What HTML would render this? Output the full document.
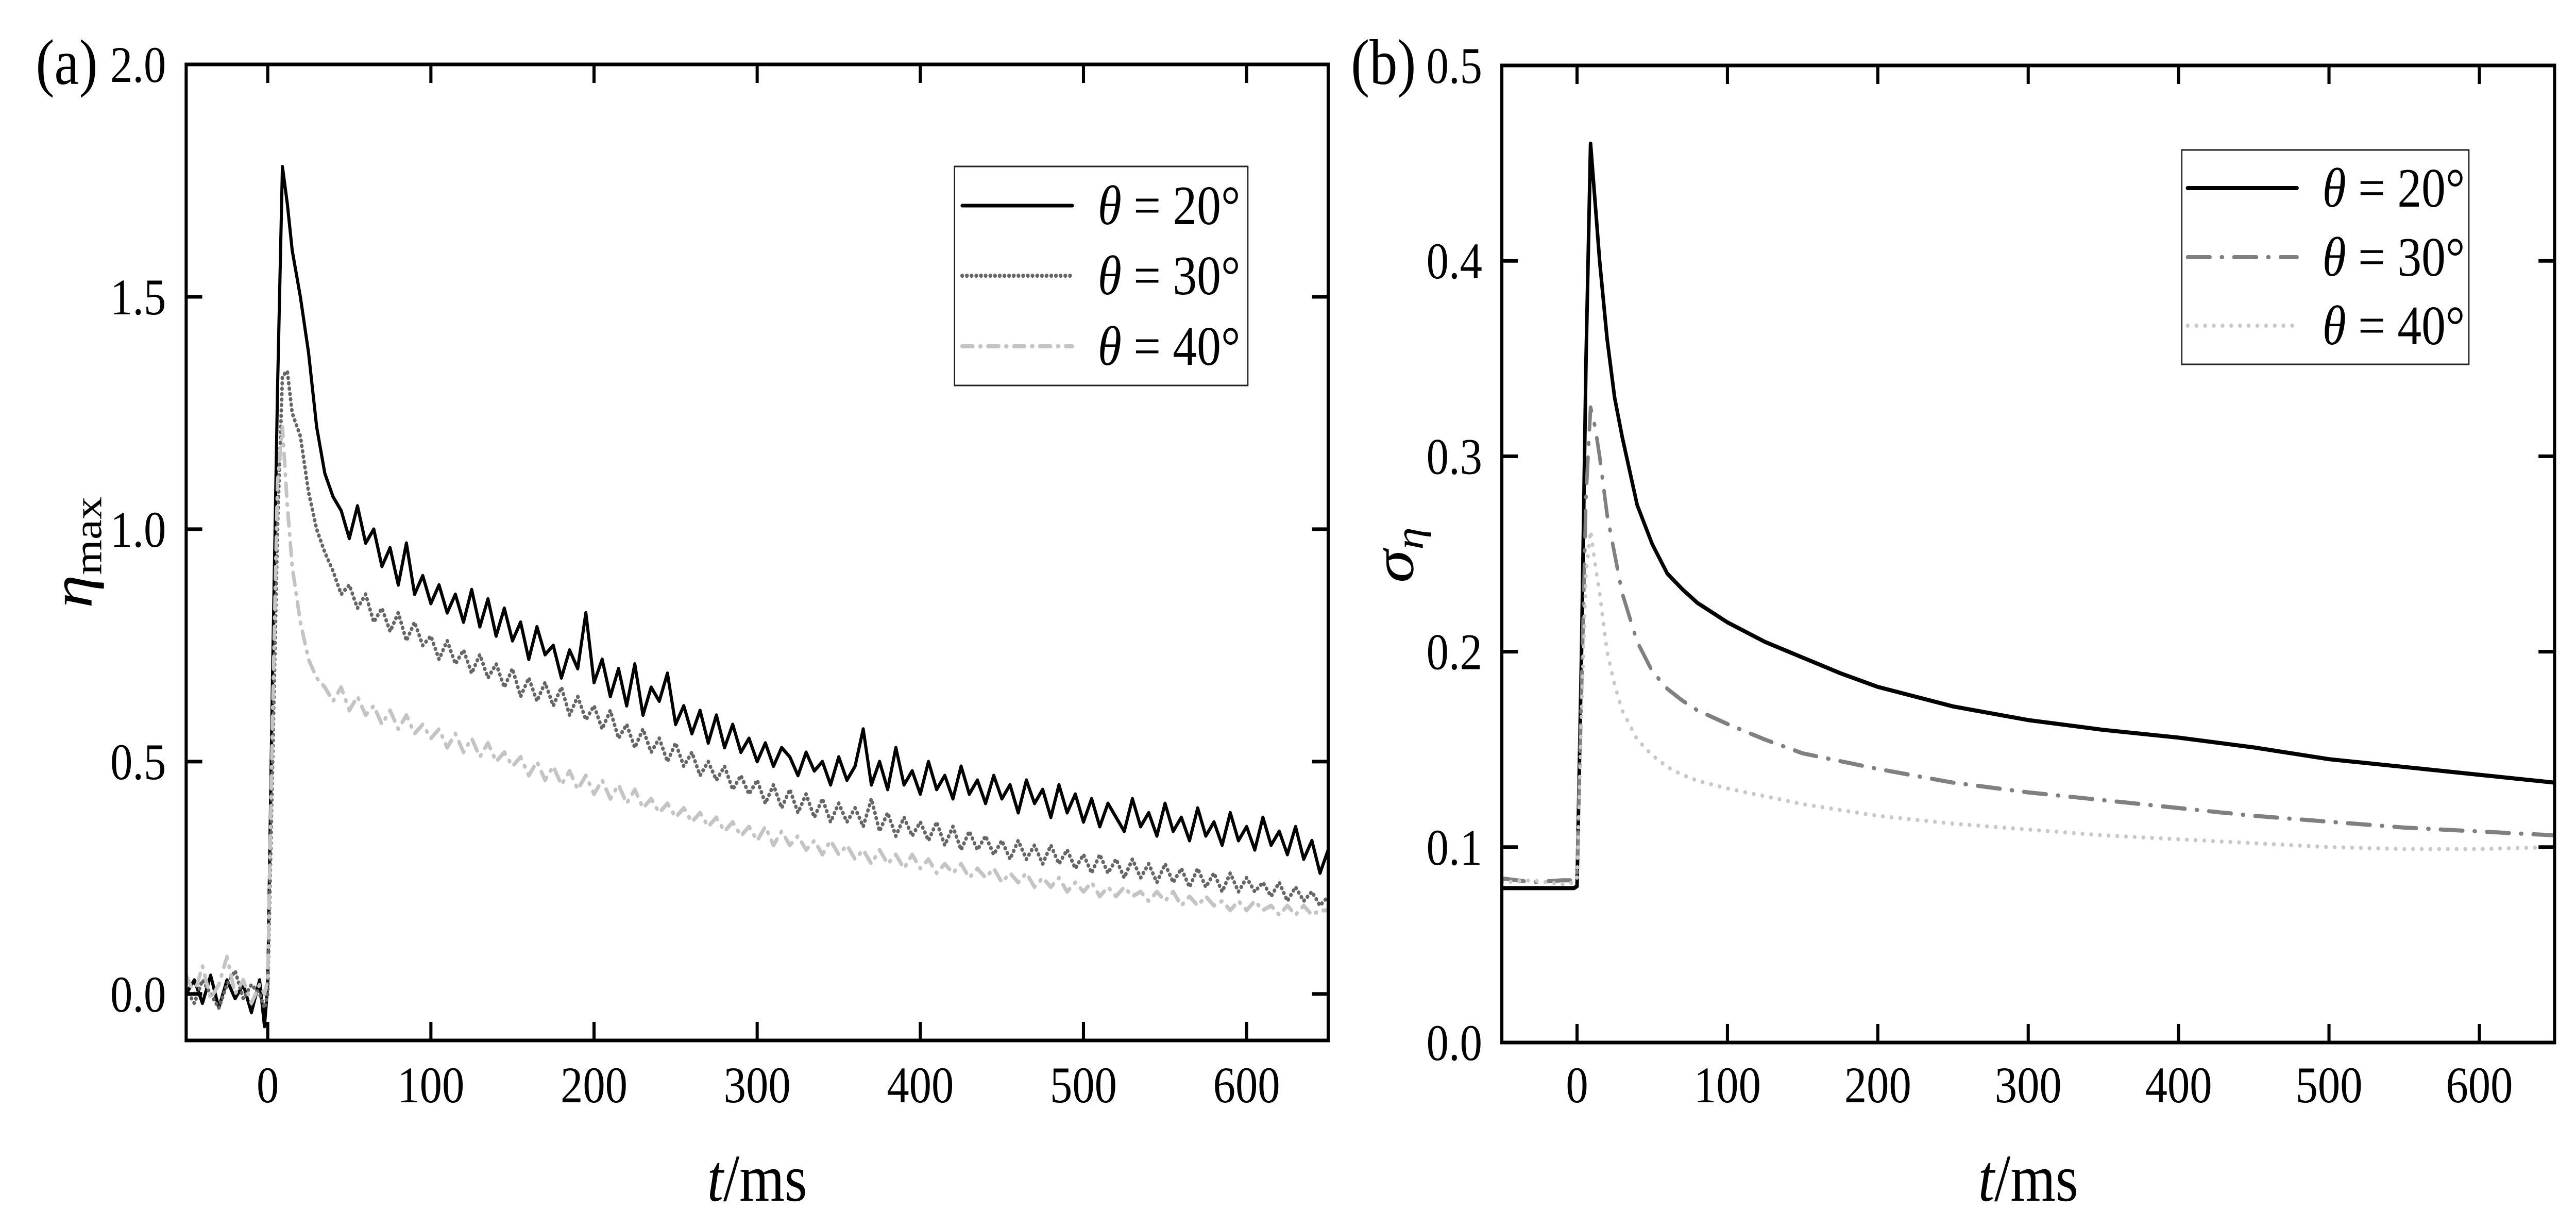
<!DOCTYPE html>
<html><head><meta charset="utf-8"><style>
html,body{margin:0;padding:0;background:#fff;width:100%;height:100%;overflow:hidden;}
svg{display:block;font-family:"Liberation Serif",serif;width:100vw;height:100vh;}
</style></head><body>
<svg id="fig" viewBox="0 0 5770 2381" preserveAspectRatio="none" xmlns="http://www.w3.org/2000/svg">
<rect x="0" y="0" width="5770" height="2381" fill="#fff"/>
<g id="pa"></g>
<g id="pb"></g>
</svg>
<script>
// ---- Panel (a) data ----
const tA = [-50,-45,-40,-35,-30,-25,-20,-15,-10,-5,-2,0,3,6,9,12,15,
20,25,30,35,40,45,50,55,60,65,70,75,80,85,90,95,100,105,110,115,120,125,130,135,140,145,150,155,160,165,170,175,180,185,190,195,200,205,210,215,220,225,230,235,240,245,250,255,260,265,270,275,280,285,290,295,300,305,310,315,320,325,330,335,340,345,350,355,360,365,370,375,380,385,390,395,400,405,410,415,420,425,430,435,440,445,450,455,460,465,470,475,480,485,490,495,500,505,510,515,520,525,530,535,540,545,550,555,560,565,570,575,580,585,590,595,600,605,610,615,620,625,630,635,640,645,650];
const a20 = [0.0,0.03,-0.02,0.04,-0.03,0.03,-0.01,0.02,-0.04,0.03,-0.07,0.02,0.7,1.3,1.78,1.7,1.6,
1.5,1.38,1.22,1.12,1.07,1.04,0.98,1.05,0.97,1.0,0.92,0.96,0.88,0.97,0.86,0.9,0.84,0.88,0.82,0.86,0.8,0.87,0.79,0.85,0.77,0.83,0.76,0.8,0.72,0.79,0.73,0.75,0.68,0.74,0.7,0.82,0.67,0.72,0.64,0.7,0.62,0.71,0.6,0.66,0.63,0.69,0.58,0.62,0.56,0.61,0.54,0.6,0.53,0.58,0.52,0.55,0.5,0.54,0.49,0.53,0.51,0.47,0.52,0.48,0.5,0.45,0.51,0.46,0.49,0.57,0.45,0.5,0.44,0.53,0.45,0.48,0.43,0.5,0.44,0.47,0.42,0.49,0.43,0.46,0.41,0.47,0.42,0.45,0.39,0.46,0.41,0.44,0.38,0.45,0.39,0.43,0.37,0.42,0.36,0.41,0.38,0.35,0.42,0.36,0.39,0.34,0.41,0.35,0.38,0.33,0.4,0.34,0.37,0.32,0.39,0.33,0.36,0.31,0.38,0.32,0.35,0.3,0.36,0.29,0.33,0.26,0.31];
const a30 = [0.01,-0.02,0.03,0.0,-0.03,0.02,0.05,-0.01,0.02,0.0,-0.03,0.0,0.5,1.0,1.33,1.34,1.25,
1.2,1.08,1.0,0.95,0.91,0.86,0.88,0.83,0.86,0.8,0.83,0.78,0.82,0.76,0.8,0.75,0.77,0.72,0.76,0.71,0.74,0.69,0.73,0.68,0.71,0.66,0.7,0.64,0.68,0.63,0.67,0.62,0.66,0.6,0.64,0.59,0.62,0.57,0.61,0.55,0.58,0.53,0.57,0.52,0.55,0.5,0.54,0.49,0.52,0.47,0.5,0.46,0.49,0.44,0.47,0.43,0.46,0.41,0.45,0.4,0.44,0.39,0.43,0.38,0.42,0.37,0.41,0.37,0.4,0.36,0.42,0.35,0.39,0.34,0.38,0.34,0.37,0.33,0.37,0.32,0.36,0.31,0.35,0.31,0.34,0.3,0.33,0.29,0.33,0.29,0.32,0.28,0.32,0.28,0.31,0.27,0.3,0.26,0.3,0.26,0.29,0.25,0.29,0.25,0.28,0.24,0.28,0.24,0.27,0.23,0.27,0.23,0.26,0.22,0.26,0.22,0.25,0.22,0.24,0.21,0.24,0.2,0.23,0.2,0.22,0.19,0.21];
const a40 = [0.04,0.0,0.06,-0.01,0.02,0.08,0.0,0.03,-0.02,0.02,0.0,0.03,0.6,1.1,1.22,1.05,0.92,
0.8,0.72,0.68,0.66,0.63,0.66,0.61,0.64,0.6,0.62,0.58,0.61,0.57,0.6,0.56,0.58,0.55,0.57,0.53,0.56,0.52,0.55,0.51,0.54,0.5,0.52,0.49,0.51,0.47,0.5,0.46,0.49,0.45,0.48,0.44,0.47,0.43,0.46,0.42,0.45,0.41,0.44,0.4,0.42,0.39,0.41,0.38,0.4,0.37,0.39,0.36,0.38,0.35,0.37,0.34,0.36,0.33,0.36,0.32,0.35,0.32,0.34,0.31,0.33,0.3,0.33,0.3,0.32,0.29,0.31,0.28,0.31,0.28,0.3,0.27,0.3,0.27,0.29,0.26,0.28,0.26,0.28,0.25,0.27,0.25,0.27,0.24,0.26,0.24,0.26,0.23,0.25,0.23,0.25,0.22,0.24,0.22,0.24,0.21,0.23,0.21,0.23,0.21,0.22,0.2,0.22,0.2,0.22,0.19,0.21,0.19,0.21,0.19,0.2,0.18,0.2,0.18,0.2,0.18,0.19,0.17,0.19,0.17,0.19,0.17,0.18,0.18];
const xTicksA = [0,100,200,300,400,500,600];
const yTicksA = [0.0,0.5,1.0,1.5,2.0];
const yLabelsA = ["0.0","0.5","1.0","1.5","2.0"];

// ---- Panel (b) data ----
const tB = [-50,-30,-10,-2,0,3,6,9,12,15,20,25,30,40,50,60,70,80,100,125,150,175,200,250,300,350,400,450,500,550,600,650];
const b20 = [0.079,0.079,0.079,0.079,0.08,0.2,0.35,0.46,0.43,0.40,0.36,0.33,0.31,0.275,0.255,0.24,0.232,0.225,0.215,0.205,0.197,0.189,0.182,0.172,0.165,0.16,0.156,0.151,0.145,0.141,0.137,0.133];
const b30 = [0.084,0.082,0.083,0.083,0.085,0.18,0.28,0.325,0.315,0.30,0.27,0.25,0.23,0.205,0.19,0.181,0.175,0.17,0.163,0.155,0.148,0.144,0.14,0.133,0.128,0.124,0.12,0.116,0.113,0.11,0.108,0.106];
const b40 = [0.082,0.083,0.081,0.082,0.083,0.17,0.24,0.262,0.245,0.23,0.2,0.183,0.17,0.155,0.147,0.141,0.137,0.134,0.13,0.126,0.122,0.119,0.116,0.112,0.109,0.106,0.104,0.102,0.1,0.099,0.099,0.1];
const xTicksB = [0,100,200,300,400,500,600];
const yTicksB = [0.0,0.1,0.2,0.3,0.4,0.5];
const yLabelsB = ["0.0","0.1","0.2","0.3","0.4","0.5"];
const legendLabels = ["20","30","40"];

const NS = "http://www.w3.org/2000/svg";
function mk(tag, attrs, parent){ const e=document.createElementNS(NS,tag); for(const k in attrs) e.setAttribute(k,attrs[k]); parent.appendChild(e); return e; }

function drawPanel(g, cfg){
  const {x0,x1,y0,y1,tMin,tMax,vMin,vMax} = cfg;
  const X = t => x0 + (t-tMin)/(tMax-tMin)*(x1-x0);
  const Y = v => y1 - (v-vMin)/(vMax-vMin)*(y1-y0);
  const cid = cfg.id+"clip";
  const cp = mk("clipPath",{id:cid},g); mk("rect",{x:x0,y:y0,width:x1-x0,height:y1-y0},cp);
  cfg.series.forEach(s=>{
    const n = Math.min(s.t.length, s.v.length);
    let d="";
    for(let i=0;i<n;i++){ d += (i?"L":"M")+X(s.t[i]).toFixed(1)+","+Y(s.v[i]).toFixed(1); }
    const p = mk("path",{d:d,fill:"none",stroke:s.color,"stroke-width":s.w,"stroke-dasharray":s.dash||"none","stroke-linecap":"round","stroke-linejoin":"round","clip-path":"url(#"+cid+")"},g);
    
    
  });
  const fr = mk("rect",{x:x0,y:y0,width:x1-x0,height:y1-y0,fill:"none",stroke:"#000","stroke-width":7},g);
  
  
  cfg.xTicks.forEach(t=>{
    const x=X(t);
    mk("line",{x1:x,y1:y1,x2:x,y2:y1-36,stroke:"#000","stroke-width":7},g);
    mk("line",{x1:x,y1:y0,x2:x,y2:y0+36,stroke:"#000","stroke-width":7},g);
    const tx = mk("text",{x:x,y:2139,"font-size":100,"text-anchor":"middle"},g);
    tx.textContent = String(t);
    
    
  });
  cfg.yTicks.forEach((v,i)=>{
    const y=Y(v);
    mk("line",{x1:x0,y1:y,x2:x0+36,y2:y,stroke:"#000","stroke-width":7},g);
    mk("line",{x1:x1,y1:y,x2:x1-36,y2:y,stroke:"#000","stroke-width":7},g);
    const tx = mk("text",{x:cfg.yLabelX,y:y+34,"font-size":100,"text-anchor":"end"},g);
    tx.textContent = cfg.yLabels[i];
    
    
  });
  const xt = mk("text",{x:(x0+x1)/2,y:2330,"font-size":130,"text-anchor":"middle"},g);
  
  
  const ti = mk("tspan",{"font-style":"italic"},xt); ti.textContent="t";
  const tm = mk("tspan",{},xt); tm.textContent="/ms";
  const pl = mk("text",{x:cfg.labelX,y:163,"font-size":125},g);
  pl.textContent = cfg.label;
  
  
  const L = cfg.legend;
  const lg = mk("g",{},g);
  
  
  mk("rect",{x:L.x,y:L.y,width:L.w,height:L.h,fill:"#fff",stroke:"#222","stroke-width":3},lg);
  cfg.series.forEach((s,i)=>{
    const yy = L.rows[i];
    const ln = mk("line",{x1:L.sx0,y1:yy,x2:L.sx1,y2:yy,stroke:s.color,"stroke-width":s.w,"stroke-dasharray":s.dash||"none","stroke-linecap":"round"},lg);
    
    
    const tx = mk("text",{x:L.tx,y:yy+36,"font-size":108},lg);
    
    
    const th = mk("tspan",{"font-style":"italic"},tx); th.textContent="θ";
    const rest = mk("tspan",{},tx); rest.textContent=" = "+legendLabels[i]+"°";
  });
}

drawPanel(document.getElementById("pa"),{
  id:"a", x0:417,x1:2975,y0:125,y1:2019,tMin:-50,tMax:650,vMin:-0.1,vMax:2.0,
  xTicks:xTicksA,yTicks:yTicksA,yLabels:yLabelsA,yLabelX:372,label:"(a)",labelX:80,
  series:[
    {name:"line-theta-20",t:tA,v:a20,color:"#000",w:7,dash:"none"},
    {name:"line-theta-30",t:tA,v:a30,color:"#666",w:8,dash:"0.5 10"},
    {name:"line-theta-40",t:tA,v:a40,color:"#c4c4c4",w:8,dash:"24 16 2 16"}
  ],
  legend:{x:2138,y:323,w:657,h:425,sx0:2155,sx1:2402,tx:2459,rows:[399,535,672]}
});
drawPanel(document.getElementById("pb"),{
  id:"b", x0:3364,x1:5722,y0:127,y1:2023,tMin:-50,tMax:650,vMin:0,vMax:0.5,
  xTicks:xTicksB,yTicks:yTicksB,yLabels:yLabelsB,yLabelX:3320,label:"(b)",labelX:3026,
  series:[
    {name:"line-theta-20",t:tB,v:b20,color:"#000",w:8,dash:"none"},
    {name:"line-theta-30",t:tB,v:b30,color:"#808080",w:8,dash:"50 26 2 26"},
    {name:"line-theta-40",t:tB,v:b40,color:"#c8c8c8",w:8,dash:"0.5 19"}
  ],
  legend:{x:4887,y:291,w:643,h:416,sx0:4900,sx1:5145,tx:5202,rows:[365,499,632]}
});

const svg = document.getElementById("fig");
const ya = mk("text",{x:0,y:0,"font-size":130,"text-anchor":"middle",transform:"translate(205,1072) rotate(-90)"},svg);


const e1 = mk("tspan",{"font-style":"italic"},ya); e1.textContent="η";
const e2 = mk("tspan",{"font-size":88,dy:22},ya); e2.textContent="max";
const yb = mk("text",{x:0,y:0,"font-size":130,"text-anchor":"middle",transform:"translate(3165,1077) rotate(-90)"},svg);


const s1 = mk("tspan",{"font-style":"italic"},yb); s1.textContent="σ";
const s2 = mk("tspan",{"font-size":88,"font-style":"italic",dy:22},yb); s2.textContent="η";
</script>
</body></html>
